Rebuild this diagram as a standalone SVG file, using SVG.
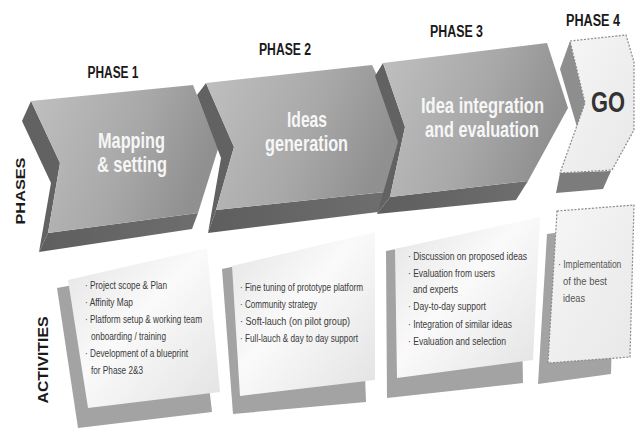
<svg xmlns="http://www.w3.org/2000/svg" width="635" height="428" viewBox="0 0 635 428">
<defs>
<linearGradient id="face" x1="0" y1="0" x2="1" y2="0.3">
<stop offset="0" stop-color="#c0c0c0"/>
<stop offset="0.6" stop-color="#a8a8a8"/>
<stop offset="1" stop-color="#909090"/>
</linearGradient>
<linearGradient id="band" x1="0" y1="0" x2="1" y2="0">
<stop offset="0" stop-color="#5e5e5e"/>
<stop offset="1" stop-color="#6e6e6e"/>
</linearGradient>
<linearGradient id="card" x1="0" y1="0" x2="1" y2="1">
<stop offset="0" stop-color="#e4e4e4"/>
<stop offset="0.45" stop-color="#fafafa"/>
<stop offset="1" stop-color="#e2e2e2"/>
</linearGradient>
<linearGradient id="go" x1="0" y1="0" x2="1" y2="1">
<stop offset="0" stop-color="#f6f6f6"/>
<stop offset="1" stop-color="#e8e8e8"/>
</linearGradient>
</defs>
<style>
.face{fill:url(#face)}
.side{fill:#626262}
.band{fill:url(#band)}
.shadow{fill:#a3a3a3}
.card{fill:url(#card)}
.dash{stroke:#8a8a8a;stroke-width:1.2;stroke-dasharray:2 1.5}
.ph{font-family:"Liberation Sans",Arial,sans-serif;font-weight:bold;font-size:16px;fill:#1a1a1a;text-anchor:middle}
.big{font-family:"Liberation Sans",Arial,sans-serif;font-weight:bold;font-size:22px;fill:#f6f6f6;text-anchor:middle}
.vl{font-family:"Liberation Sans",Arial,sans-serif;font-weight:bold;fill:#1a1a1a;text-anchor:middle}
.t{font-family:"Liberation Sans",Arial,sans-serif;font-size:10.5px;fill:#3a3a3a}
.t4{font-family:"Liberation Sans",Arial,sans-serif;font-size:11.5px;fill:#555}
</style>
<rect width="635" height="428" fill="#ffffff"/>

<g id="side-labels">
<text class="vl" font-size="13" transform="translate(25,191) rotate(-90)" textLength="67" lengthAdjust="spacingAndGlyphs">PHASES</text>
<text class="vl" font-size="15" transform="translate(48,360) rotate(-90)" textLength="87" lengthAdjust="spacingAndGlyphs">ACTIVITIES</text>
</g>

<g id="phase1">
<polygon class="side" points="31,101 22,121 51,183 39,252 48,233 60,163"/>
<polygon class="band" points="48,233 39,252 192,229 198,213"/>
<polygon class="face" points="31,101 193,85 218,149 198,213 48,233 60,163"/>
<text class="ph" x="113" y="78" textLength="51" lengthAdjust="spacingAndGlyphs">PHASE 1</text>
<text class="big" x="131.5" y="148" textLength="67" lengthAdjust="spacingAndGlyphs">Mapping</text>
<text class="big" x="132" y="172" textLength="70" lengthAdjust="spacingAndGlyphs">&amp; setting</text>
</g>

<g id="phase2">
<polygon class="side" points="206,83 197,95 221,158 208,233 216,210 234,147"/>
<polygon class="band" points="216,210 208,233 378,212 385,192"/>
<polygon class="face" points="206,83 372,65 403,128 385,192 216,210 234,147"/>
<text class="ph" x="285" y="55" textLength="52" lengthAdjust="spacingAndGlyphs">PHASE 2</text>
<text class="big" x="307" y="127" textLength="40" lengthAdjust="spacingAndGlyphs">Ideas</text>
<text class="big" x="306.5" y="151" textLength="83" lengthAdjust="spacingAndGlyphs">generation</text>
</g>

<g id="phase3">
<polygon class="side" points="383,63 375,76 398,142 377,214 390,197 405,127"/>
<polygon class="band" points="390,197 377,214 516,200 528,181"/>
<polygon class="face" points="383,63 547,43 568,108 528,181 390,197 405,127"/>
<text class="ph" x="456.5" y="37" textLength="53" lengthAdjust="spacingAndGlyphs">PHASE 3</text>
<text class="big" x="482.5" y="113" textLength="123" lengthAdjust="spacingAndGlyphs">Idea integration</text>
<text class="big" x="482" y="137" textLength="114" lengthAdjust="spacingAndGlyphs">and evaluation</text>
</g>

<g id="phase4">
<polygon fill="#8e8e8e" points="570,41 560,69 577,127 585,103"/>
<polygon fill="#7c7c7c" points="560,173 556,193 603,189 611,171"/>
<polygon class="dash" fill="url(#go)" points="570,41 626,35 634,62 634,130 612,170 560,173 585,103"/>
<text class="ph" x="593" y="26" textLength="54" lengthAdjust="spacingAndGlyphs">PHASE 4</text>
<text x="608" y="112" font-family="'Liberation Sans',Arial,sans-serif" font-weight="bold" font-size="29" fill="#333333" text-anchor="middle" textLength="34" lengthAdjust="spacingAndGlyphs">GO</text>
</g>

<g id="activity1">
<polygon class="shadow" points="57,288 195,262 212,412 78,428"/>
<polygon class="card" points="68,280 207,248 220,392 88,408"/>
<text class="t" x="85" y="289" textLength="82" lengthAdjust="spacingAndGlyphs">· Project scope &amp; Plan</text>
<text class="t" x="85" y="306" textLength="48" lengthAdjust="spacingAndGlyphs">· Affinity Map</text>
<text class="t" x="85" y="323" textLength="117" lengthAdjust="spacingAndGlyphs">· Platform setup &amp; working team</text>
<text class="t" x="91" y="340" textLength="75" lengthAdjust="spacingAndGlyphs">onboarding / training</text>
<text class="t" x="85" y="357" textLength="103" lengthAdjust="spacingAndGlyphs">· Development of a blueprint</text>
<text class="t" x="91" y="374" textLength="52" lengthAdjust="spacingAndGlyphs">for Phase 2&amp;3</text>
</g>

<g id="activity2">
<polygon class="shadow" points="222,269 360,240 366,402 233,414"/>
<polygon class="card" points="232,266 375,232 375,380 240,396"/>
<text class="t" x="240" y="291" textLength="123" lengthAdjust="spacingAndGlyphs">· Fine tuning of prototype platform</text>
<text class="t" x="240" y="308" textLength="77" lengthAdjust="spacingAndGlyphs">· Community strategy</text>
<text class="t" x="240" y="325" textLength="110" lengthAdjust="spacingAndGlyphs">· Soft-lauch (on pilot group)</text>
<text class="t" x="240" y="342" textLength="118" lengthAdjust="spacingAndGlyphs">· Full-lauch &amp; day to day support</text>
</g>

<g id="activity3">
<polygon class="shadow" points="386,251 520,225 523,383 387,398"/>
<polygon class="card" points="395,249 540,217 533,360 397,378"/>
<text class="t" x="408" y="260" textLength="119" lengthAdjust="spacingAndGlyphs">· Discussion on proposed ideas</text>
<text class="t" x="408" y="277" textLength="87" lengthAdjust="spacingAndGlyphs">· Evaluation from users</text>
<text class="t" x="413" y="293" textLength="45" lengthAdjust="spacingAndGlyphs">and experts</text>
<text class="t" x="408" y="310" textLength="78" lengthAdjust="spacingAndGlyphs">· Day-to-day support</text>
<text class="t" x="408" y="328" textLength="104" lengthAdjust="spacingAndGlyphs">· Integration of similar ideas</text>
<text class="t" x="408" y="345" textLength="98" lengthAdjust="spacingAndGlyphs">· Evaluation and selection</text>
</g>

<g id="activity4">
<polygon class="shadow" points="547,234 615,225 611,374 538,384"/>
<polygon class="dash" fill="url(#go)" points="557,211 634,205 630,357 548,363"/>
<text class="t4" transform="translate(558,268) scale(0.74,1)">· Implementation</text>
<text class="t4" x="563" y="285" textLength="44" lengthAdjust="spacingAndGlyphs">of the best</text>
<text class="t4" x="563" y="302" textLength="22" lengthAdjust="spacingAndGlyphs">ideas</text>
</g>

<g id="connectors"></g>
</svg>
